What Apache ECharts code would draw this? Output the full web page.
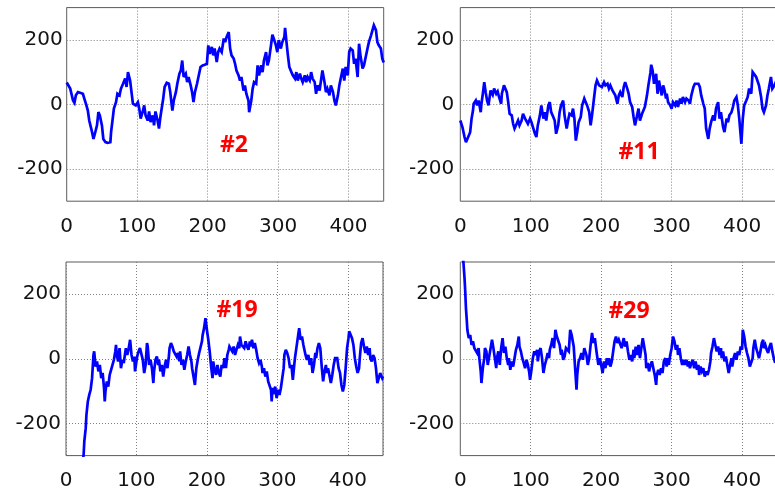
<!DOCTYPE html>
<html>
<head>
<meta charset="utf-8">
<script src="https://cdn.jsdelivr.net/npm/echarts@6/dist/echarts.min.js"></script>
<style>
  html, body { margin: 0; padding: 0; background: #ffffff; }
  #chart { width: 775px; height: 490px; }
</style>
</head>
<body>
<div id="chart"></div>
<script>
// Four simulated runs, each a sequence of [step, value] samples.
const run2 = [[0,68],[2,64],[5,49],[9,12],[11,5],[13,28],[16,38],[19,36],[23,33],[25,18],[28,-3],[30,-19],[32,-50],[36,-86],[38,-107],[40,-91],[43,-65],[45,-24],[47,-34],[50,-65],[52,-107],[55,-117],[58,-119],[62,-117],[63,-86],[65,-50],[67,-13],[70,7],[72,33],[75,28],[77,49],[80,64],[83,80],[85,54],[87,100],[90,74],[92,38],[94,2],[98,-3],[101,7],[103,-13],[105,-44],[108,-22],[110,-3],[112,-34],[115,-50],[117,-22],[119,-55],[122,-34],[124,-65],[126,-22],[129,-50],[131,-75],[133,-39],[137,18],[139,54],[142,67],[145,64],[147,38],[150,-19],[152,12],[155,38],[157,64],[160,95],[162,105],[164,136],[166,85],[169,95],[171,69],[173,85],[176,59],[178,38],[180,7],[182,38],[185,64],[187,85],[190,116],[193,121],[196,123],[199,126],[201,183],[203,157],[206,178],[208,152],[210,173],[213,131],[215,162],[217,173],[220,162],[223,204],
  [225,193],[227,209],[230,224],[232,173],[234,152],[237,142],[239,126],[241,105],[244,90],[246,74],[248,85],[251,43],[253,59],[255,33],[258,12],[259,-24],[262,12],[264,49],[266,69],[269,64],[271,121],[273,90],[276,121],[278,100],[280,136],[283,162],[285,121],[287,136],[290,183],[292,216],[294,204],[297,183],[299,162],[301,199],[304,173],[306,193],[309,209],[310,237],[312,193],[314,152],[316,116],[319,100],[321,90],[324,80],[326,100],[328,74],[331,95],[333,80],[335,69],[338,90],[340,69],[342,85],[345,74],[347,100],[349,80],[352,69],[354,33],[356,59],[359,43],[361,49],[363,105],[366,69],[368,38],[370,49],[373,28],[375,59],[378,38],[380,12],[382,-3],[385,28],[387,59],[389,80],[392,111],[394,74],[396,116],[399,90],[401,162],[403,173],[406,167],[408,126],[410,142],[413,85],[415,188],[417,152],[420,111],[422,121],[424,121],[427,173],[429,193],[432,214],[434,219],[436,245],[439,230],[441,193],[443,183],[446,173],[448,142],[450,130]];

const run11 = [[0,-50],[1,-55],[3,-70],[6,-101],[8,-117],[10,-107],[12,-112],[14,-86],[16,-44],[18,-19],[19,2],[22,12],[24,-3],[26,12],[29,-24],[30,2],[32,33],[34,69],[36,38],[38,12],[40,-3],[42,28],[43,43],[46,30],[48,49],[51,33],[53,40],[55,23],[58,2],[59,33],[62,59],[64,64],[66,38],[68,7],[70,-29],[73,-34],[75,-60],[77,-75],[80,-60],[82,-50],[84,-65],[87,-50],[89,-29],[92,-44],[94,-39],[96,-60],[99,-44],[101,-55],[103,-70],[106,-91],[108,-101],[110,-65],[113,-34],[115,-3],[118,-44],[120,-24],[122,-50],[125,-3],[127,7],[129,-24],[132,-39],[134,-50],[136,-91],[139,-65],[141,-24],[143,-3],[146,12],[148,-34],[151,-75],[153,-50],[155,-29],[158,-34],[160,-13],[162,-44],[164,-112],[166,-86],[168,-55],[171,-39],[173,-3],[176,18],[178,7],[180,-3],[183,-24],[185,-65],[187,-34],[190,23],[192,59],[194,74],[197,59],[199,64],[201,54],[204,69],[206,59],[209,64],[211,49],[213,59],[216,43],[218,43],[220,28],[223,2],
  [225,28],[227,38],[230,23],[232,54],[234,69],[237,49],[239,33],[241,7],[244,-8],[246,-39],[248,-65],[251,-34],[253,-13],[255,-50],[258,-29],[260,-34],[262,-8],[265,28],[267,59],[270,100],[271,123],[273,105],[275,64],[277,80],[278,95],[280,33],[282,74],[284,49],[286,28],[288,59],[290,43],[292,18],[293,33],[295,7],[298,-3],[300,-13],[302,7],[305,-3],[307,12],[309,-8],[312,18],[314,2],[316,23],[319,7],[321,18],[324,12],[326,2],[328,28],[331,54],[333,64],[335,69],[338,64],[340,54],[342,28],[345,2],[347,-13],[349,-75],[352,-107],[354,-75],[356,-55],[359,-34],[361,-50],[363,-13],[366,7],[368,-44],[370,-24],[373,-70],[375,-86],[378,-44],[380,-55],[382,-34],[385,-24],[387,-8],[389,12],[392,23],[394,-3],[396,-44],[399,-122],[401,-44],[403,-3],[406,12],[408,23],[410,49],[413,33],[415,100],[417,95],[420,85],[422,85],[424,59],[427,23],[429,-13],[431,-24],[434,-3],[436,28],[438,49],[441,85],[443,49],[446,59],[448,70],[450,60]];

const run19 = [[23,-330],[25,-298],[26,-256],[28,-215],[29,-174],[31,-132],[33,-112],[35,-96],[37,-60],[39,12],[40,23],[42,-24],[44,-8],[46,-39],[48,-19],[50,-60],[52,-44],[54,-91],[55,-132],[56,-101],[58,-70],[60,-86],[62,-50],[64,-34],[66,-19],[68,-3],[70,23],[71,43],[72,12],[74,-8],[76,33],[78,-29],[80,-3],[82,-13],[84,18],[85,33],[87,12],[89,33],[91,59],[93,12],[95,-8],[97,7],[98,-39],[100,-8],[101,7],[103,23],[105,33],[107,38],[109,-3],[111,-44],[113,-19],[115,49],[116,38],[118,-19],[120,-3],[122,-29],[124,-75],[125,-39],[127,-3],[129,7],[131,-19],[132,-3],[134,-39],[136,-19],[138,-55],[140,-24],[142,-3],[144,-29],[146,7],[147,33],[149,49],[151,38],[153,23],[155,28],[157,7],[159,18],[161,-8],[162,23],[164,-19],[166,-3],[168,-34],[170,-8],[172,12],[174,38],[176,12],[178,-8],[179,-29],[181,-55],[183,-81],[185,-29],[187,-3],[189,18],[191,23],[193,54],[194,74],[196,95],[198,126],[200,90],[202,59],[204,23],[206,-24],[208,-60],[209,-8],[211,-34],[213,-50],[215,-19],[217,-44],[219,-55],[221,-19],[223,-29],
  [225,2],[227,-29],[229,12],[231,28],[232,38],[234,33],[236,23],[238,38],[240,12],[242,28],[244,43],[246,33],[247,69],[249,43],[251,49],[253,33],[255,54],[257,38],[259,28],[261,54],[262,38],[264,59],[266,33],[268,49],[270,28],[272,2],[274,-13],[276,-3],[278,-24],[279,-44],[281,-29],[283,-55],[285,-39],[287,-70],[289,-75],[291,-96],[292,-132],[293,-91],[295,-101],[297,-86],[299,-122],[301,-96],[303,-112],[305,-91],[307,-60],[309,-29],[310,12],[312,28],[314,18],[316,2],[318,-29],[320,-19],[322,-65],[324,-19],[325,2],[327,33],[329,64],[331,95],[333,59],[335,69],[337,43],[339,38],[340,12],[342,-3],[344,12],[346,-19],[348,2],[350,-44],[352,-19],[354,18],[355,2],[357,33],[359,49],[361,33],[363,-24],[365,-70],[367,-39],[369,-19],[370,-44],[372,-29],[374,-24],[376,-75],[378,-50],[380,-19],[382,2],[384,-3],[385,2],[387,-29],[389,-44],[391,-81],[393,-101],[395,-81],[397,-29],[399,33],[401,64],[402,85],[404,90],[406,64],[408,43],[410,2],[412,-24],[414,-44],[416,-29],[417,2],[419,49],[421,64],[423,38],[425,18],[427,38],[429,12],[431,33],[432,2],[434,-8],[436,12],[438,2],[440,-29],[442,-75],[444,-60],[446,-44],[447,-39],[449,-60],[450,-55]];

const run29 = [[3,360],[4,312],[6,250],[7,209],[8,157],[9,126],[10,90],[12,64],[14,74],[16,43],[18,54],[20,33],[22,38],[24,18],[26,33],[27,2],[29,-39],[30,-75],[32,-29],[34,2],[35,33],[37,23],[39,-19],[41,7],[43,33],[45,59],[47,33],[49,2],[51,-29],[52,2],[54,23],[56,-19],[58,33],[60,64],[62,18],[64,38],[66,2],[68,-19],[69,2],[71,-34],[73,-8],[75,-24],[77,2],[79,28],[81,43],[83,69],[84,38],[86,23],[88,2],[90,-13],[92,-29],[94,-3],[96,-19],[98,-44],[99,-65],[101,-34],[103,2],[105,23],[107,12],[109,28],[110,-8],[112,23],[114,33],[116,2],[118,-44],[120,-19],[122,-3],[124,18],[126,2],[127,28],[129,43],[131,64],[133,33],[135,90],[137,69],[139,74],[141,43],[143,12],[144,28],[146,-3],[148,7],[150,33],[152,38],[154,23],[156,90],[158,74],[159,80],[161,38],[163,-29],[165,-96],[166,-50],[168,-8],[170,2],[172,18],[174,-3],[176,33],[177,38],[179,12],[181,-19],[183,2],[185,43],[187,80],[189,49],[191,64],[193,28],[194,12],[196,-19],[198,2],[200,-19],[202,-44],[204,-8],[206,-29],[208,2],[209,-19],[211,2],[213,-24],[215,-8],[217,23],[219,54],[221,69],[223,49],
  [225,59],[227,64],[229,33],[231,54],[232,64],[234,38],[236,54],[238,23],[240,-3],[242,12],[244,-8],[246,28],[247,2],[249,38],[251,12],[253,43],[255,2],[257,33],[259,64],[261,38],[263,12],[264,-29],[266,-13],[268,-39],[270,-19],[272,-8],[274,-29],[276,-50],[278,-81],[279,-50],[281,-34],[283,-50],[285,-29],[287,-44],[289,-8],[291,2],[293,-24],[294,2],[296,-19],[298,12],[300,33],[302,69],[304,54],[306,28],[308,43],[309,12],[311,33],[313,2],[315,-19],[317,-3],[319,-19],[321,-3],[323,-24],[324,-8],[326,-29],[328,-13],[330,-3],[332,-29],[334,-8],[336,-34],[338,-19],[339,-50],[341,-24],[343,-39],[345,-29],[347,-55],[349,-39],[351,-50],[353,-34],[355,-8],[356,18],[358,38],[360,64],[362,43],[364,23],[366,38],[368,12],[370,33],[371,2],[373,23],[375,-8],[377,7],[379,-19],[381,-44],[383,-19],[385,2],[386,-24],[388,2],[390,18],[392,-3],[394,23],[396,12],[398,38],[400,28],[401,90],[403,69],[405,38],[407,18],[409,2],[411,-24],[413,-29],[415,2],[416,33],[418,59],[420,33],[422,18],[424,2],[426,23],[428,49],[430,59],[431,33],[433,43],[435,28],[437,18],[439,38],[441,49],[443,23],[445,2],[447,-13]];

const runLabels = ['#2', '#11', '#19', '#29'];
const runs = [run2, run11, run19, run29];

// Axis ranges shared by all four panels
const stepMin = 0, stepMax = 450, stepInterval = 100;
const valueMin = -300, valueMax = 300, valueInterval = 100, valueLabelEvery = 200;

// Panel placement (pixels) and the position of each run's tag
const layout = [
  { left: 66.7,  top: 7.6,   labelMargin: 4, stepMargin: 16, tagX: 234, tagY: 145 },
  { left: 460.3, top: 7.6,   labelMargin: 6, stepMargin: 16, tagX: 639, tagY: 152 },
  { left: 66.0,  top: 262.0, labelMargin: 5, stepMargin: 15, tagX: 237, tagY: 310 },
  { left: 460.3, top: 262.0, labelMargin: 6, stepMargin: 15, tagX: 629, tagY: 311 }
];
const panelWidth = 317, panelHeight = 193.6;

const tickFont = { fontFamily: 'DejaVu Sans', fontSize: 20, color: '#141414' };
const gridDots = { color: '#808080', width: 1, type: [1, 2] };

const chart = echarts.init(document.getElementById('chart'), null, { renderer: 'canvas' });

const option = {
  animation: false,
  backgroundColor: '#ffffff',
  grid: layout.map(p => ({
    left: p.left, top: p.top, width: panelWidth, height: panelHeight,
    show: true, borderColor: '#5a5a5a', borderWidth: 1,
    backgroundColor: 'transparent',
    containLabel: false, outerBoundsMode: 'none'
  })),
  xAxis: layout.map((p, i) => ({
    type: 'value', gridIndex: i,
    min: stepMin, max: stepMax, interval: stepInterval,
    axisLine: { show: false }, axisTick: { show: false },
    splitLine: { show: true, lineStyle: gridDots },
    axisLabel: Object.assign({ margin: p.stepMargin, showMaxLabel: false }, tickFont)
  })),
  yAxis: layout.map((p, i) => ({
    type: 'value', gridIndex: i,
    min: valueMin, max: valueMax, interval: valueInterval,
    axisLine: { show: false }, axisTick: { show: false },
    splitLine: {
      show: true,
      // lines alternate: only every other one (…, -200, 0, 200) is visible
      lineStyle: Object.assign({}, gridDots, { color: ['rgba(0,0,0,0)', '#808080'] })
    },
    axisLabel: Object.assign({
      margin: p.labelMargin,
      formatter: v => (v % valueLabelEvery === 0 ? String(v) : '')
    }, tickFont)
  })),
  series: runs.map((data, i) => ({
    type: 'line', name: runLabels[i],
    xAxisIndex: i, yAxisIndex: i,
    data: data,
    symbol: 'none', showSymbol: false, clip: true,
    lineStyle: { color: '#0000ff', width: 2.7, join: 'miter', miterLimit: 3 },
    silent: true
  })),
  graphic: layout.map((p, i) => ({
    type: 'text', x: p.tagX, y: p.tagY, z: 100,
    style: {
      text: runLabels[i],
      fill: '#ff0000',
      font: 'bold 23px "Open Sans"',
      align: 'center', verticalAlign: 'middle',
      textAlign: 'center', textVerticalAlign: 'middle'
    }
  }))
};

chart.setOption(option);
</script>
</body>
</html>
